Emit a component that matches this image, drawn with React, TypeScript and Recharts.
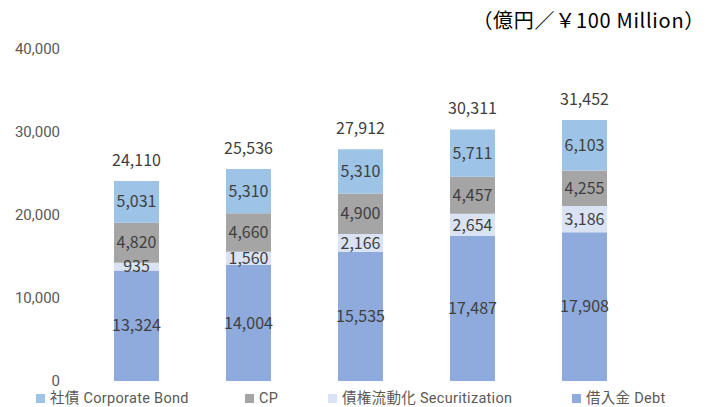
import React from 'react';
import { BarChart, Bar, XAxis, YAxis, LabelList } from 'recharts';

const categories = ['A', 'B', 'C', 'D', 'E'];
const debt = [13324, 14004, 15535, 17487, 17908];
const securitization = [935, 1560, 2166, 2654, 3186];
const cp = [4820, 4660, 4900, 4457, 4255];
const corporateBond = [5031, 5310, 5310, 5711, 6103];
const totals = [24110, 25536, 27912, 30311, 31452];
const yTicks = [0, 10000, 20000, 30000, 40000];

const seriesNames = {
  bond: '社債 Corporate Bond',
  cp: 'CP',
  sec: '債権流動化 Securitization',
  debt: '借入金 Debt',
};
const colors = {
  bond: '#9DC3E6',
  cp: '#A5A5A5',
  sec: '#DAE3F3',
  debt: '#8FAADC',
};

const data = categories.map((c, i) => ({
  name: c,
  debt: debt[i],
  sec: securitization[i],
  cp: cp[i],
  bond: corporateBond[i],
  total: totals[i],
}));

const FONT = '"Noto Sans CJK JP", "Noto Sans", sans-serif';
const SMALL_FONT = 'Roboto, "Noto Sans CJK JP", sans-serif';
const fmt = (v: any) => Number(v).toLocaleString('en-US');

const legendOrder: Array<keyof typeof colors> = ['bond', 'cp', 'sec', 'debt'];
const legendLeft = [36, 245, 328, 572];

export default function App() {
  return (
    <div style={{ position: 'absolute', left: 0, top: 0, width: 708, height: 407, background: '#fff', fontFamily: FONT }}>
      <div style={{ position: 'absolute', right: 3, top: 6, fontSize: 20, letterSpacing: 0.7, color: '#000', lineHeight: '27px' }}>
        （億円／￥100 Million）
      </div>
      <BarChart
        width={708}
        height={407}
        data={data}
        margin={{ top: 49, right: 68, bottom: 26, left: 0 }}
        barSize={45}
      >
        <XAxis dataKey="name" hide />
        <YAxis
          width={80}
          domain={[0, 40000]}
          ticks={yTicks}
          tickFormatter={fmt}
          axisLine={false}
          tickLine={false}
          tickSize={0}
          tickMargin={20}
          tick={{ fill: '#595959', fontSize: 15, fontFamily: SMALL_FONT }}
        />
        <Bar dataKey="debt" stackId="s" fill={colors.debt} isAnimationActive={false}>
          <LabelList dataKey="debt" position="center" formatter={fmt} fill="#404040" fontSize={16} fontFamily={FONT} />
        </Bar>
        <Bar dataKey="sec" stackId="s" fill={colors.sec} isAnimationActive={false}>
          <LabelList dataKey="sec" position="center" formatter={fmt} fill="#404040" fontSize={16} fontFamily={FONT} />
        </Bar>
        <Bar dataKey="cp" stackId="s" fill={colors.cp} isAnimationActive={false}>
          <LabelList dataKey="cp" position="center" formatter={fmt} fill="#404040" fontSize={16} fontFamily={FONT} />
        </Bar>
        <Bar dataKey="bond" stackId="s" fill={colors.bond} isAnimationActive={false}>
          <LabelList dataKey="bond" position="center" formatter={fmt} fill="#404040" fontSize={16} fontFamily={FONT} />
          <LabelList dataKey="total" position="top" offset={15} formatter={fmt} fill="#404040" fontSize={16} fontFamily={FONT} />
        </Bar>
      </BarChart>
      {legendOrder.map((k, i) => (
        <div
          key={k}
          style={{
            position: 'absolute',
            left: legendLeft[i],
            top: 390,
            height: 17,
            display: 'flex',
            alignItems: 'center',
            fontSize: 14.5,
            fontFamily: SMALL_FONT,
            color: '#595959',
            whiteSpace: 'nowrap',
            letterSpacing: 0.3,
          }}
        >
          <span style={{ display: 'inline-block', width: 9, height: 9, background: colors[k], marginRight: 5 }} />
          <span style={{ lineHeight: '17px' }}>{seriesNames[k]}</span>
        </div>
      ))}
    </div>
  );
}
